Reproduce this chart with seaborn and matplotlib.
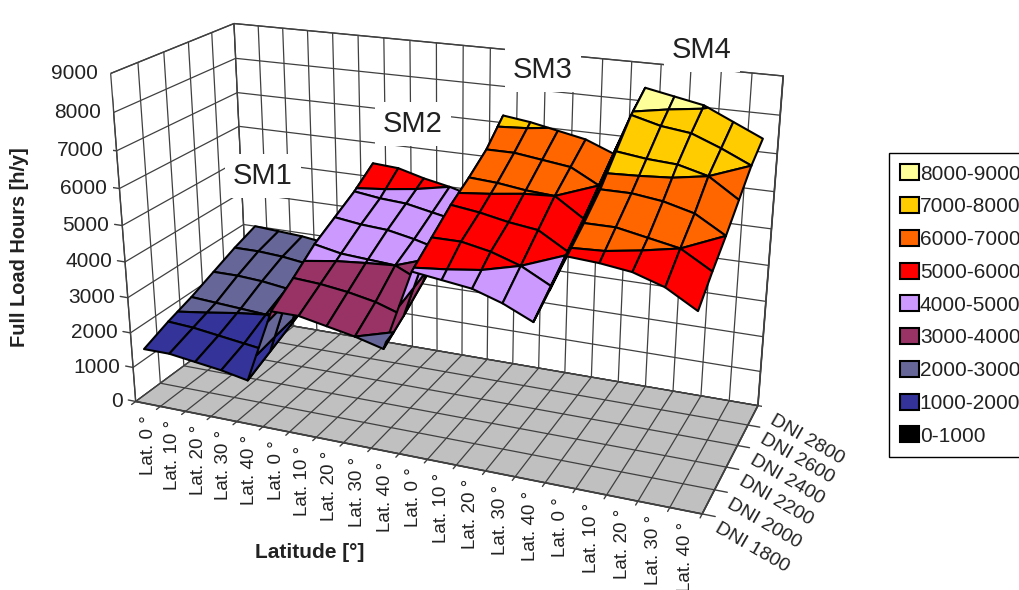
import numpy as np
import seaborn as sns
import matplotlib
matplotlib.use("Agg")
import matplotlib.pyplot as plt
from matplotlib.patches import Patch
from mpl_toolkits.mplot3d import proj3d
from mpl_toolkits.mplot3d.art3d import Poly3DCollection

lat_labels = ["Lat. 0 °", "Lat. 10 °", "Lat. 20 °", "Lat. 30 °", "Lat. 40 °"] * 4
dni_labels = ["DNI 1800", "DNI 2000", "DNI 2200", "DNI 2400", "DNI 2600", "DNI 2800"]
hour_ticks = [0, 1000, 2000, 3000, 4000, 5000, 6000, 7000, 8000, 9000]

# full load hours, one row per latitude, columns DNI 1800 ... 2800
sm1 = [[1600, 1900, 2150, 2450, 2750, 3000],
       [1600, 1850, 2100, 2450, 2750, 2950],
       [1500, 1750, 2050, 2400, 2700, 2900],
       [1400, 1650, 2000, 2300, 2600, 2800],
       [1250, 1550, 1850, 2150, 2450, 2700]]
sm2 = [[3300, 3750, 4250, 4600, 4950, 5400],
       [3300, 3700, 4100, 4500, 4850, 5350],
       [3150, 3600, 4050, 4450, 4800, 5150],
       [3000, 3450, 4000, 4300, 4650, 5000],
       [2800, 3200, 3650, 4100, 4500, 4800]]
sm3 = [[4950, 5400, 5850, 6200, 6600, 7200],
       [4850, 5400, 5750, 6150, 6600, 7100],
       [4750, 5250, 5600, 6050, 6500, 6950],
       [4500, 5000, 5500, 6000, 6400, 6800],
       [4150, 4600, 5050, 5500, 6000, 6500]]
sm4 = [[5900, 6300, 6750, 7350, 7950, 8350],
       [5850, 6300, 6750, 7250, 7750, 8200],
       [5750, 6150, 6650, 7200, 7650, 8050],
       [5500, 6000, 6450, 7000, 7350, 7700],
       [5050, 5550, 6000, 6500, 7000, 7350]]

band_edges = [0, 1000, 2000, 3000, 4000, 5000, 6000, 7000, 8000, 9000]
band_colors = ["#000000", "#333399", "#666699", "#993366", "#CC99FF",
               "#FF0000", "#FF6600", "#FFCC00", "#FFFF99"]
band_labels = ["0-1000", "1000-2000", "2000-3000", "3000-4000", "4000-5000",
               "5000-6000", "6000-7000", "7000-8000", "8000-9000"]


def clip_z(poly, level, keep_above):
    out = []
    for i in range(len(poly)):
        a, b = poly[i], poly[(i + 1) % len(poly)]
        a_in = a[2] >= level if keep_above else a[2] <= level
        b_in = b[2] >= level if keep_above else b[2] <= level
        if a_in:
            out.append(a)
        if a_in != b_in:
            t = (level - a[2]) / (b[2] - a[2])
            out.append(a + t * (b - a))
    return out


def label3d(x, y, z, text, dx, dy, **kw):
    # Text3D ignores rotation, so go through the 2D projection
    px, py, _ = proj3d.proj_transform(x, y, z, ax.get_proj())
    ax.annotate(text, (px, py), xytext=(dx, dy), textcoords="offset pixels",
                annotation_clip=False, color="#222222", **kw)


sns.set_theme(style="white")
plt.rcParams["font.family"] = ["Liberation Sans", "DejaVu Sans"]
palette = sns.color_palette(band_colors)

hours = np.array(sm1 + sm2 + sm3 + sm4, dtype=float)
nx, ny = hours.shape

fig = plt.figure(figsize=(10.19, 5.90), dpi=100)
ax = fig.add_axes([-0.071, 0.019, 1.0, 1.1], projection="3d")
ax.patch.set_visible(False)
ax.set_proj_type("persp", focal_length=0.45)
ax.view_init(elev=20.5, azim=-67.5)
ax.set_box_aspect((600, 238, 350), zoom=1.1)
# latitudes sit in the middle of their cells, DNI values on the grid lines
ax.set_xlim(0, nx)
ax.set_ylim(0, ny - 1)
ax.set_zlim(0, 9000)

polys, faces = [], []
for i in range(nx - 1):
    for j in range(ny - 1):
        quad = [np.array([x + 0.5, y, hours[x, y]], dtype=float)
                for x, y in [(i, j), (i + 1, j), (i + 1, j + 1), (i, j + 1)]]
        for k, col in enumerate(palette):
            part = clip_z(quad, band_edges[k], True)
            if part:
                part = clip_z(part, band_edges[k + 1], False)
            if len(part) >= 3:
                polys.append(part)
                faces.append(col)

surface = Poly3DCollection(polys, facecolors=faces, edgecolors="black", linewidths=1.5)
ax.add_collection3d(surface)
surface.set_clip_on(False)

ax.set_xticks(range(nx + 1))
ax.set_yticks(range(ny))
ax.set_zticks(hour_ticks)
ax.set_xticklabels([])
ax.set_yticklabels([])
ax.set_zticklabels([])
ax.tick_params(length=0)
ax.xaxis.set_pane_color("white")
ax.yaxis.set_pane_color("white")
ax.zaxis.set_pane_color("#C0C0C0")
for axis in (ax.xaxis, ax.yaxis, ax.zaxis):
    axis.pane.set_edgecolor("#404040")
    axis.line.set_color("#404040")
    axis._axinfo["grid"].update(color="#404040", linewidth=0.9)
    axis._axinfo["tick"].update(inward_factor=0, outward_factor=0)
ax.set_xlabel("")
ax.set_ylabel("")
ax.set_zlabel("")

# ticks and labels round the floor
for i in range(nx + 1):
    ax.plot([i, i], [0, -0.16], [0, 0], color="#404040", lw=1)
for i, lab in enumerate(lat_labels):
    label3d(i + 0.5, 0, 0, lab, 0, -11, rotation=90, ha="center", va="top", fontsize=13.5)
for j, lab in enumerate(dni_labels):
    ax.plot([nx, nx + 0.4], [j, j], [0, 0], color="#404040", lw=1)
    label3d(nx, j, 0, lab, 18, -6, rotation=-30, ha="left", va="top",
            rotation_mode="anchor", fontsize=14)
ax.plot([0, 0], [0, 0], [0, 9000], color="#404040", lw=1)
for val in hour_ticks:
    ax.plot([0, -0.3], [0, 0], [val, val], color="#404040", lw=1)
    label3d(0, 0, val, str(val), -13, 0, ha="right", va="center", fontsize=15)

fig.text(20 / 1019, 1 - 247 / 590, "Full Load Hours [h/y]", rotation=90, ha="center", va="center",
         fontsize=14.4, fontweight="bold", color="#222222")
fig.text(310 / 1019, 1 - 552 / 590, "Latitude [°]", ha="center", va="center",
         fontsize=15, fontweight="bold", color="#222222")

box = dict(facecolor="white", edgecolor="none", pad=6)
for name, px, py in [("SM1", 263, 176), ("SM2", 413, 124), ("SM3", 543, 70), ("SM4", 702, 50)]:
    fig.text(px / 1019, 1 - py / 590, name, ha="center", va="center", fontsize=21,
             color="#222222", bbox=box)

handles = [Patch(facecolor=palette[k], edgecolor="black", linewidth=1.5, label=band_labels[k])
           for k in range(len(band_labels) - 1, -1, -1)]
leg = fig.legend(handles=handles, loc="upper left", bbox_to_anchor=(889 / 1019, 1 - 153 / 590),
                 borderaxespad=0, fancybox=False, framealpha=1, edgecolor="black", fontsize=15,
                 handlelength=0.88, handleheight=0.8, handletextpad=0.05, labelspacing=0.65,
                 borderpad=0.55, labelcolor="#222222")
leg.get_frame().set_linewidth(1)

fig.savefig("out.png", dpi=100)
